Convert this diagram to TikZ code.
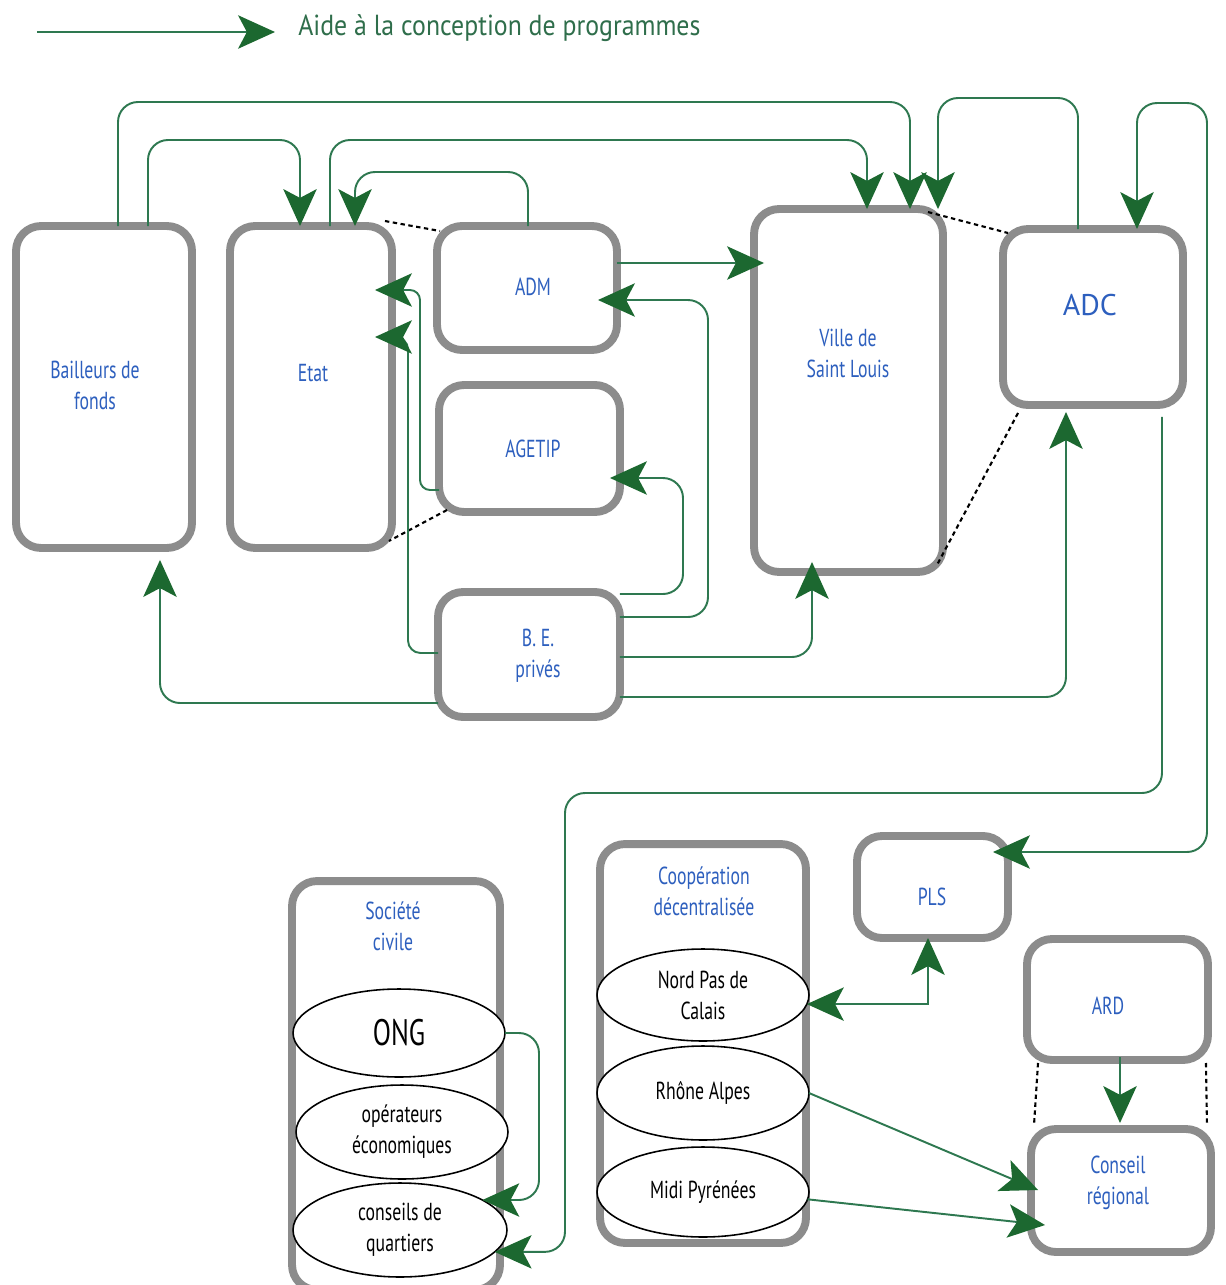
\documentclass[tikz,border=0pt]{standalone}
\usepackage{fontspec}
\setmainfont{PT Sans}[FakeStretch=0.72]
\newfontfamily\widefont{PT Sans}
\newfontfamily\legfont{PT Sans}[FakeStretch=0.89]
\usetikzlibrary{arrows.meta,shapes.geometric,calc}
\definecolor{boxgray}{RGB}{140,140,140}
\definecolor{lgreen}{RGB}{46,120,80}
\definecolor{hgreen}{RGB}{28,104,48}
\definecolor{tblue}{RGB}{45,95,190}
\definecolor{leggreen}{RGB}{47,110,75}
\begin{document}
\begin{tikzpicture}[x=0.02cm,y=-0.02cm,
  box/.style={draw=boxgray, line width=4.5pt, rounded corners=0.5cm, outer sep=0pt, inner sep=0pt},
  lab/.style={text=tblue, align=center, inner sep=0pt, font=\fontsize{14}{17.6}\selectfont},
  ell/.style={ellipse, draw=black, line width=0.9pt, fill=white, inner sep=0pt, outer sep=0pt, align=center, text=black, font=\fontsize{14}{17.6}\selectfont},
  conn/.style={draw=lgreen, line width=1.1pt, rounded corners=0.4cm, -{Stealth[length=21pt,width=19pt,inset=5pt,color=hgreen]}},
  biconn/.style={draw=lgreen, line width=1.1pt, rounded corners=0.4cm, {Stealth[length=21pt,width=19pt,inset=5pt,color=hgreen]}-{Stealth[length=21pt,width=19pt,inset=5pt,color=hgreen]}},
  dotl/.style={draw=black, line width=1.2pt, dash pattern=on 2.5pt off 2pt}
]
\fill[white] (0,0) rectangle (1225,1285);
\useasboundingbox (0,0) rectangle (1225,1285);
\clip (0,0) rectangle (1225,1285);

% legend
\coordinate (l1) at (37,32);
\node[anchor=west, inner sep=0pt, text=leggreen, font=\legfont\fontsize{16.5}{19}\selectfont] (leg) at (298,28) {Aide à la conception de programmes};
\draw[conn, rounded corners=0pt] (l1) -- ($(leg.west)+(-23,4)$);

% boxes
\node[box, minimum width=3.52cm, minimum height=6.44cm] (bail) at (104,387) {};
\node[box, minimum width=3.24cm, minimum height=6.44cm] (etat) at (311,387) {};
\node[box, minimum width=3.6cm, minimum height=2.48cm] (adm) at (527,288) {};
\node[box, minimum width=3.62cm, minimum height=2.54cm] (age) at (529.5,448.5) {};
\node[box, minimum width=3.64cm, minimum height=2.5cm] (be) at (529,654.5) {};
\node[box, minimum width=3.78cm, minimum height=7.26cm] (vil) at (848.5,390.5) {};
\node[box, minimum width=3.6cm, minimum height=3.52cm] (adc) at (1093,317) {};
\node[box, minimum width=4.16cm, minimum height=8.18cm] (soc) at (396,1085.5) {};
\node[box, minimum width=4.12cm, minimum height=7.98cm] (coop) at (703,1043.5) {};
\node[box, minimum width=3.02cm, minimum height=2.04cm] (pls) at (932.5,887) {};
\node[box, minimum width=3.62cm, minimum height=2.42cm] (ard) at (1117.5,999.5) {};
\node[box, minimum width=3.6cm, minimum height=2.46cm] (cr) at (1121,1190.5) {};

% labels
\node[lab] (tbail) at (95,385) {Bailleurs de\\fonds};
\node[lab] (tetat) at (313,373) {Etat};
\node[lab] (tadm) at (533,287) {ADM};
\node[lab] (tage) at (533,449) {AGETIP};
\node[lab] (tbe) at (538,656) {B. E.\\privés};
\node[lab] (tvil) at (848,353) {Ville de\\Saint Louis};
\node[lab, font=\widefont\fontsize{17}{20}\selectfont] (tadc) at (1090,305) {ADC};
\node[lab] (tsoc) at (393,926) {Société\\civile};
\node[lab] (tcoop) at (704,891) {Coopération\\décentralisée};
\node[lab] (tpls) at (932,897) {PLS};
\node[lab] (tard) at (1108,1006) {ARD};
\node[lab] (tcr) at (1118,1183) {Conseil\\régional};

% ellipses
\node[ell, minimum width=4.24cm, minimum height=1.76cm, font=\fontsize{21}{24}\selectfont] (ong) at (399,1033) {ONG};
\node[ell, minimum width=4.24cm, minimum height=1.88cm] (op) at (402,1132) {opérateurs\\économiques};
\node[ell, minimum width=4.28cm, minimum height=1.88cm] (cq) at (400,1230) {conseils de\\quartiers};
\node[ell, minimum width=4.24cm, minimum height=1.84cm] (nord) at (703,995) {Nord Pas de\\Calais};
\node[ell, minimum width=4.24cm, minimum height=1.88cm] (rho) at (703,1093) {Rhône Alpes};
\node[ell, minimum width=4.24cm, minimum height=1.80cm] (midi) at (703,1192) {Midi Pyrénées};

% dotted links
\draw[dotl] ($(etat.north east)+(-7,-5)$) -- ($(adm.north west)+(3,5)$);
\draw[dotl] ($(age.south west)+(8,-2)$) -- ($(etat.south east)+(-3,-7)$);
\draw[dotl] ($(vil.north east)+(-15,3)$) -- ($(adc.north west)+(5,4)$);
\draw[dotl] ($(adc.south west)+(15,8)$) -- ($(vil.south east)+(-6,-7)$);
\draw[dotl] ($(ard.south west)+(11,3)$) -- ($(cr.north west)+(3,-4)$);
\draw[dotl] ($(ard.south east)+(-2,3)$) -- ($(cr.north east)+(-4,-4)$);

% top connectors
\draw[conn] (bail.north -| 118,0) |- (910,102) -- (vil.north -| 910,0);
\draw[conn] (bail.north -| 148,0) |- (300,140) -- (etat.north -| 300,0);
\draw[conn] (etat.north -| 330,0) |- (867,140) -- (vil.north -| 867,0);
\draw[conn] (adm.north -| 528,0) |- (355,172) -- (etat.north -| 355,0);
\draw[conn] (adc.north -| 1078,0) |- (938,98) -- (vil.north -| 938,0);
\draw[biconn] ($(pls.east |- 0,852)+(-15,0)$) -- (1207,852) -- (1207,103) -- (1137,103) -- (adc.north -| 1137,0);

% middle connectors
\draw[conn] (adm.east |- 0,263) -- ($(vil.west |- 0,263)+(10,0)$);
\draw[conn] (be.east |- 0,617) -| (708,300) -- ($(adm.east |- 0,300)+(-19,0)$);
\draw[conn] (be.east |- 0,594) -| (683,478) -- ($(age.east |- 0,478)+(-10,0)$);
\draw[conn, rounded corners=0.25cm] (be.west |- 0,653) -| (408,337) -- ($(etat.east |- 0,337)+(-17,0)$);
\draw[conn, rounded corners=0.2cm] (age.west |- 0,490) -| (420,290) -- ($(etat.east |- 0,290)+(-17,0)$);
\draw[conn] (be.east |- 0,657) -| ($(vil.south -| 812,0)+(0,-10)$);
\draw[conn] (be.east |- 0,697) -| ($(adc.south -| 1066,0)+(0,7)$);
\draw[conn] (be.west |- 0,703) -| ($(bail.south -| 160,0)+(0,12)$);

% lower connectors
\draw[conn] (ong.east) -| (539,1200) -- (cq.20);
\draw[conn] ($(adc.south -| 1162,0)+(0,12)$) |- (565,793) |- (cq.-13);
\draw[biconn, rounded corners=0pt] (nord.-5) -| (pls.south -| 928,0);
\draw[conn] (rho.east) -- ($(cr.west |- 0,1190)+(7,0)$);
\draw[conn] (midi.-4) -- ($(cr.west |- 0,1225)+(14,0)$);
\draw[conn] ($(ard.south -| 1120,0)+(0,-3)$) -- ($(cr.north -| 1120,0)+(0,-6)$);
\end{tikzpicture}
\end{document}
